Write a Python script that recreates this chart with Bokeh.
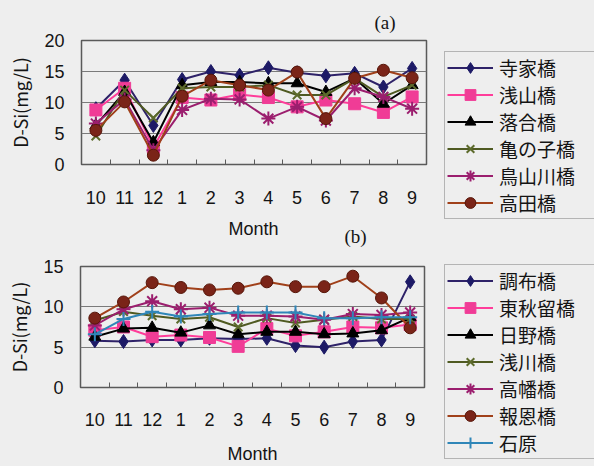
from bokeh.plotting import figure
from bokeh.layouts import column, row
from bokeh.models import Range1d, FixedTicker, Legend, LegendItem, Label
from bokeh.embed import file_html
from bokeh.resources import INLINE

# Months of the survey year (October -> September)
months = ["10", "11", "12", "1", "2", "3", "4", "5", "6", "7", "8", "9"]

# (a) dissolved silica, mg/L
a_jikebashi = [9.0, 13.6, 6.3, 13.7, 15.0, 14.4, 15.6, 14.8, 14.3, 14.7, 12.5, 15.5]
a_asayamabashi = [8.8, 12.3, 2.8, 10.8, 10.4, 11.3, 10.8, 9.3, 10.4, 9.8, 8.4, 10.9]
a_ochiaibashi = [6.3, 11.7, 3.6, 12.8, 13.3, 13.3, 13.1, 13.1, 11.7, 13.9, 9.8, 12.8]
a_kamenokobashi = [4.6, 12.0, 7.5, 12.3, 12.5, 12.5, 12.8, 11.2, 11.2, 13.9, 10.9, 12.8]
a_toriyamagawabashi = [6.6, 10.5, 2.3, 8.8, 10.6, 10.5, 7.4, 9.3, 7.1, 12.3, 10.9, 9.0]
a_takadabashi = [5.5, 10.1, 1.5, 11.0, 13.6, 12.8, 12.0, 14.9, 7.4, 13.9, 15.2, 14.0]

# (b) dissolved silica, mg/L
b_chofubashi = [5.8, 5.7, 5.9, 5.9, 6.1, 6.0, 6.1, 5.2, 5.0, 5.7, 5.9, 13.1]
b_higashiakirubashi = [7.1, 7.5, 6.3, 6.5, 6.2, 5.1, 7.3, 6.4, 6.9, 7.5, 7.4, 7.8]
b_hinobashi = [6.3, 7.3, 7.4, 6.8, 7.7, 6.6, 6.9, 6.9, 6.6, 6.7, 7.1, 8.7]
b_asakawabashi = [8.3, 9.4, 8.9, 8.5, 8.7, 7.5, 8.6, 8.0, 8.4, 8.8, 8.5, 8.5]
b_takahatabashi = [7.7, 9.7, 10.7, 9.7, 9.9, 8.9, 8.9, 8.8, 8.4, 9.1, 9.0, 9.3]
b_hoonbashi = [8.6, 10.6, 13.0, 12.4, 12.1, 12.3, 13.1, 12.5, 12.5, 13.8, 11.1, 7.4]
b_ishihara = [6.6, 8.5, 9.4, 8.8, 9.1, 9.3, 9.3, 9.3, 8.6, 8.6, 8.7, 8.7]

a_names = ["寺家橋", "浅山橋", "落合橋", "亀の子橋", "鳥山川橋", "高田橋"]
b_names = ["調布橋", "東秋留橋", "日野橋", "浅川橋", "高幡橋", "報恩橋", "石原"]

BG = "#eeeeee"
TXT = "#141414"
FONT = "Liberation Sans"
JFONT = "Noto Sans CJK JP"
NAN = float("nan")

# line colour, marker, marker size, marker fill, marker outline
STYLES = [
    ("#2e2268", "diamond", 14, "#1d1a66", "#1d1a66"),
    ("#ff3d9a", "square", 12, "#f03c96", "#f03c96"),
    ("#000000", "triangle", 12, "#000000", "#000000"),
    ("#4f5a22", "x", 12, "#5d6b2c", "#5d6b2c"),
    ("#9b1e6e", "asterisk", 14, "#9b1e6e", "#9b1e6e"),
    ("#a0401a", "circle", 12, "#7a2418", "#561508"),
    ("#2f86b8", "cross", 14, "#2f86b8", "#2f86b8"),
]


def draw_series(p, xs, vals, st):
    lc, mk, ms, mf, mo = st
    r1 = p.line(xs, vals, line_color=lc, line_width=2)
    r2 = p.scatter(xs, vals, marker=mk, size=ms, fill_color=mf, line_color=mo,
                   line_width=2 if mk in ("x", "asterisk", "cross") else 1)
    return r1, r2


def blank(w, h):
    p = figure(width=w, height=h, output_backend="svg", toolbar_location=None,
               x_range=Range1d(0, w), y_range=Range1d(0, h),
               x_axis_location=None, y_axis_location=None,
               min_border=0, frame_align=False)
    p.background_fill_color = BG
    p.border_fill_color = BG
    p.outline_line_color = None
    p.xgrid.visible = False
    p.ygrid.visible = False
    return p


def chart(series, ymax, yticks, ygrid, h, borders, tag, tag_offset, tag_standoff,
          tick_standoff, month_label, label_standoff):
    left, right, top, bottom = borders
    xs = list(range(len(months)))
    p = figure(width=430, height=h, output_backend="svg", toolbar_location=None,
               x_range=Range1d(-0.5, len(months) - 0.5), y_range=Range1d(0, ymax),
               min_border_left=left, min_border_right=right,
               min_border_top=top, min_border_bottom=bottom,
               frame_align=False, y_axis_label="D-Si(mg/L)")
    p.background_fill_color = BG
    p.border_fill_color = BG
    p.outline_line_color = "#5a5a5a"
    p.outline_line_width = 1.5

    if tag:
        p.title.text = tag
        p.title.align = "left"
        p.title.offset = tag_offset
        p.title.standoff = tag_standoff
        p.title.text_font = "Liberation Serif"
        p.title.text_font_size = "19px"
        p.title.text_font_style = "normal"
        p.title.text_color = TXT

    for vals, st in zip(series, STYLES):
        draw_series(p, xs, vals, st)

    xa = p.xaxis[0]
    xa.ticker = FixedTicker(ticks=xs, minor_ticks=[i + 0.5 for i in range(len(months) - 1)])
    xa.major_label_overrides = {i: m for i, m in enumerate(months)}
    xa.major_tick_in = 0
    xa.major_tick_out = 0
    xa.minor_tick_in = 5
    xa.minor_tick_out = 0
    xa.minor_tick_line_color = "#5a5a5a"
    xa.axis_line_color = None
    xa.major_label_standoff = tick_standoff
    xa.major_label_text_font = FONT
    xa.major_label_text_font_size = "18px"
    xa.major_label_text_color = TXT
    if month_label:
        xa.axis_label = "Month"
        xa.axis_label_standoff = label_standoff
        xa.axis_label_text_font = FONT
        xa.axis_label_text_font_size = "18px"
        xa.axis_label_text_font_style = "normal"
        xa.axis_label_text_color = TXT

    ya = p.yaxis[0]
    ya.ticker = FixedTicker(ticks=yticks)
    ya.major_tick_in = 0
    ya.major_tick_out = 0
    ya.minor_tick_line_color = None
    ya.axis_line_color = None
    ya.major_label_standoff = 17
    ya.major_label_text_font = FONT
    ya.major_label_text_font_size = "18px"
    ya.major_label_text_color = TXT
    ya.axis_label_standoff = 8
    ya.axis_label_text_font = JFONT
    ya.axis_label_text_font_size = "18px"
    ya.axis_label_text_font_style = "normal"
    ya.axis_label_text_color = TXT

    p.xgrid.visible = False
    p.ygrid.ticker = FixedTicker(ticks=ygrid)
    p.ygrid.grid_line_color = "#7a7a7a"
    p.ygrid.grid_line_width = 1
    return p


def legend_box(names, h, loc):
    # key panel: styled renderers without points, only used for the legend glyphs
    p = blank(164, h)
    items = []
    for name, st in zip(names, STYLES):
        r1, r2 = draw_series(p, [NAN], [NAN], st)
        items.append(LegendItem(label=name, renderers=[r1, r2]))
    lg = Legend(items=items, location=loc)
    lg.background_fill_color = BG
    lg.background_fill_alpha = 1
    lg.border_line_color = "#7a7a7a"
    lg.border_line_width = 1
    lg.glyph_width = 46
    lg.glyph_height = 27
    lg.label_height = 26
    lg.label_width = 96
    lg.spacing = 0
    lg.padding = 2
    lg.margin = 0
    lg.label_standoff = 6
    lg.label_text_font = JFONT
    lg.label_text_font_size = "19px"
    lg.label_text_color = TXT
    p.add_layout(lg)
    return p


chart_a = chart(
    [a_jikebashi, a_asayamabashi, a_ochiaibashi, a_kamenokobashi,
     a_toriyamagawabashi, a_takadabashi],
    20, [0, 5, 10, 15, 20], [5, 10, 15], 214, (81, 4, 40, 50),
    "(a)", 293, 16, 26, False, 0)

# strip between the two panels: x label of (a) and the tag of (b)
strip = blank(430, 36)
strip.add_layout(Label(x=253, y=22, x_units="screen", y_units="screen", text="Month",
                       text_font=FONT, text_font_size="18px", text_align="center",
                       text_baseline="middle", text_color=TXT))
strip.add_layout(Label(x=355, y=14, x_units="screen", y_units="screen", text="(b)",
                       text_font="Liberation Serif", text_font_size="19px",
                       text_align="center", text_baseline="middle", text_color=TXT))

chart_b = chart(
    [b_chofubashi, b_higashiakirubashi, b_hinobashi, b_asakawabashi,
     b_takahatabashi, b_hoonbashi, b_ishihara],
    15, [0, 5, 10, 15], [5, 10], 216, (80, 6, 16, 76),
    None, 0, 0, 25, True, 15)

legend_a = legend_box(a_names, 240, (14, 21))
legend_b = legend_box(b_names, 226, (14, 7))

layout = row(column(chart_a, strip, chart_b, spacing=0),
             column(legend_a, legend_b, spacing=0),
             spacing=0, background=BG)
open("out.html", "w").write(file_html(layout, INLINE))
